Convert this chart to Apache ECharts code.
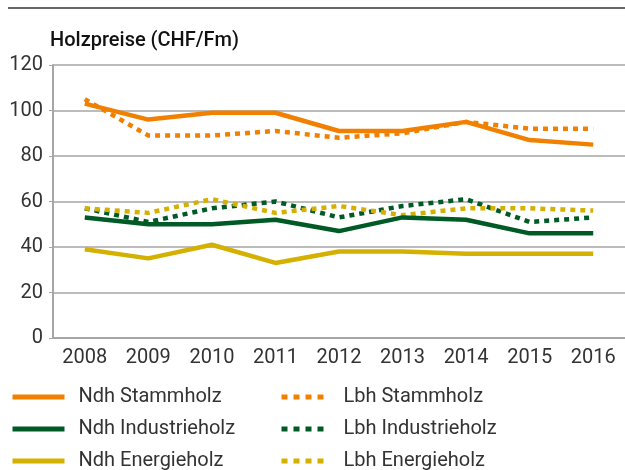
<!DOCTYPE html>
<html>
<head>
<meta charset="utf-8">
<script src="https://cdn.jsdelivr.net/npm/echarts@6/dist/echarts.min.js"></script>
<style>
  html, body { margin: 0; padding: 0; background: #fff; }
  #chart { width: 625px; height: 470px; }
</style>
</head>
<body>
<div id="chart"></div>
<script>
// Holzpreise (CHF/Fm)
var years = ['2008', '2009', '2010', '2011', '2012', '2013', '2014', '2015', '2016'];
var ndhStamm = [103, 96, 99, 99, 91, 91, 95, 87, 85];
var lbhStamm = [105, 89, 89, 91, 88, 90, 95, 92, 92];
var ndhIndustrie = [53, 50, 50, 52, 47, 53, 52, 46, 46];
var lbhIndustrie = [57, 51, 57, 60, 53, 58, 61, 51, 53];
var ndhEnergie = [39, 35, 41, 33, 38, 38, 37, 37, 37];
var lbhEnergie = [57, 55, 61, 55, 58, 54, 57, 57, 56];

var ORANGE = '#f28000';
var GREEN = '#005a26';
var YELLOW = '#d4b000';
var FONT = 'Roboto';

function mkLine(name, data, color, dotted) {
  return {
    name: name,
    type: 'line',
    data: data,
    symbol: 'none',
    lineStyle: {
      color: color,
      width: 4.5,
      type: dotted ? [5, 5] : 'solid',
      cap: 'butt'
    },
    itemStyle: { color: color },
    z: dotted ? 2 : 3
  };
}

var chart = echarts.init(document.getElementById('chart'));

var legendText = {
  fontFamily: FONT,
  fontSize: 20,
  color: '#333',
  lineHeight: 20,
  padding: [0, 0, 0, 9]
};

var option = {
  animation: false,
  backgroundColor: '#fff',
  title: {
    text: 'Holzpreise (CHF/Fm)',
    left: 45,
    top: 26,
    textStyle: { fontFamily: FONT, fontSize: 20, fontWeight: 500, color: '#111' }
  },
  graphic: [{
    type: 'line',
    shape: { x1: 8, y1: 8, x2: 625, y2: 8 },
    style: { stroke: '#333', lineWidth: 1.5 }
  }],
  grid: { left: 53, right: -4, top: 65, bottom: 132 },
  xAxis: {
    type: 'category',
    data: years,
    boundaryGap: true,
    axisLine: { lineStyle: { color: '#a6a6a6', width: 2 } },
    axisTick: { alignWithLabel: true, length: 4, lineStyle: { color: '#a6a6a6' } },
    axisLabel: { fontFamily: FONT, fontSize: 20, color: '#333', margin: 10 }
  },
  yAxis: {
    type: 'value',
    min: 0,
    max: 120,
    interval: 20,
    axisLine: { show: true, lineStyle: { color: '#a6a6a6', width: 2 } },
    axisTick: { show: true, length: 4, lineStyle: { color: '#a6a6a6' } },
    axisLabel: { fontFamily: FONT, fontSize: 20, color: '#333', margin: 10 },
    splitLine: { lineStyle: { color: '#a6a6a6', width: 1.5 } }
  },
  legend: [{
    orient: 'vertical',
    left: 10,
    top: 387,
    padding: 0,
    height: 90,
    itemWidth: 52,
    itemHeight: 20,
    itemGap: 12,
    itemStyle: { opacity: 0 },
    lineStyle: { width: 5 },
    textStyle: legendText,
    data: ['Ndh Stammholz', 'Ndh Industrieholz', 'Ndh Energieholz']
  }, {
    orient: 'vertical',
    left: 279,
    top: 387,
    padding: 0,
    height: 90,
    itemWidth: 48,
    itemHeight: 20,
    itemGap: 12,
    itemStyle: { opacity: 0 },
    lineStyle: { width: 5, type: [6, 6] },
    textStyle: legendText,
    data: ['Lbh Stammholz', 'Lbh Industrieholz', 'Lbh Energieholz']
  }],
  series: [
    mkLine('Lbh Stammholz', lbhStamm, ORANGE, true),
    mkLine('Lbh Industrieholz', lbhIndustrie, GREEN, true),
    mkLine('Lbh Energieholz', lbhEnergie, YELLOW, true),
    mkLine('Ndh Stammholz', ndhStamm, ORANGE, false),
    mkLine('Ndh Industrieholz', ndhIndustrie, GREEN, false),
    mkLine('Ndh Energieholz', ndhEnergie, YELLOW, false)
  ]
};

chart.setOption(option);
</script>
</body>
</html>
